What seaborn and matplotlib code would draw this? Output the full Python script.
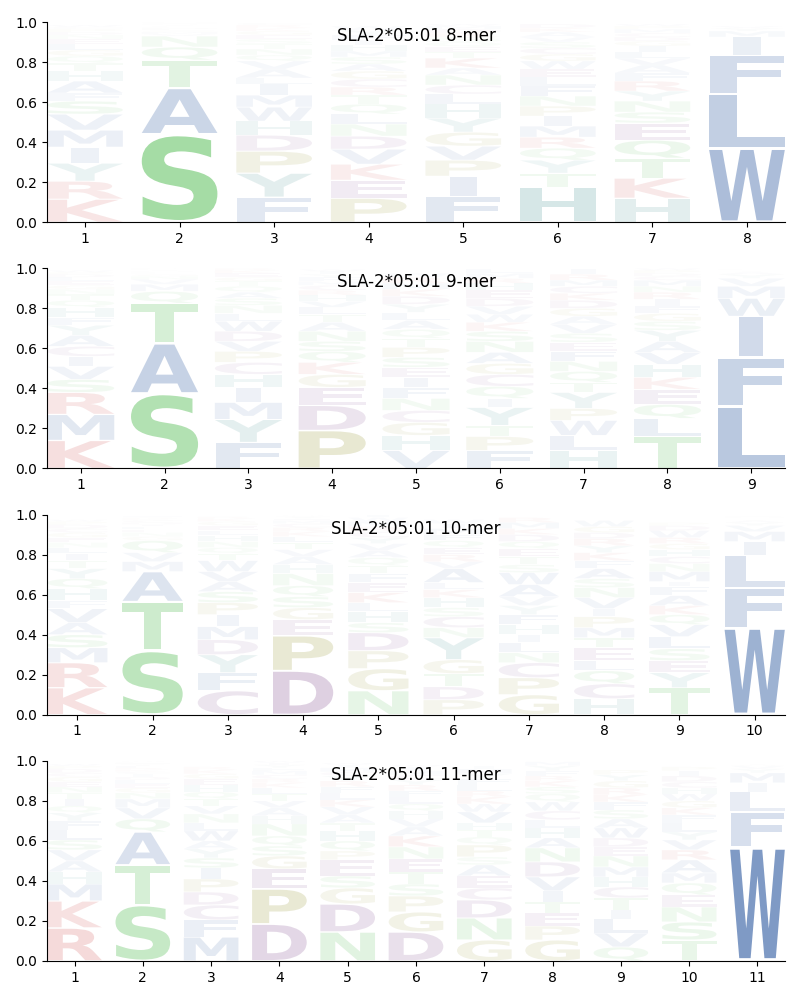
import numpy as np
import matplotlib
matplotlib.use("Agg")
import matplotlib.pyplot as plt
import seaborn as sns
from matplotlib.textpath import TextPath
from matplotlib.patches import PathPatch
from matplotlib.font_manager import FontProperties
from matplotlib.transforms import Affine2D

# Stacks read bottom-to-top for each position (letters, then their probabilities)
mer8_letters = [
    "KRYIMVSFAHTQGLENDPCW",
    "SATQNVMGEDLCIKRFYHPW",
    "FYPDHWMILAVQNTSEGKRC",
    "PEKVDNLQTRCGASMHIFYW",
    "FIPVGYHLCNAKTEQSRDMW",
    "HTYQRMIPNFLEWGCSVAKD",
    "HKTQESNYRFAVLIGDCMPW",
    "WLFIMYVATSGNQEDKRHPC",
]
mer8_values = [
    [.115, .09, .09, .08, .085, .08, .065, .04, .06, .05, .04, .035, .03, .03, .025, .02, .015, .015, .01, .01],
    [.44, .23, .14, .065, .055, .01, .01, .008, .007, .006, .005, .004, .004, .003, .003, .003, .003, .002, .002, .001],
    [.125, .12, .11, .08, .07, .07, .06, .055, .03, .045, .04, .03, .03, .025, .025, .02, .02, .015, .015, .01],
    [.12, .09, .08, .075, .065, .06, .05, .05, .045, .04, .04, .04, .035, .035, .03, .03, .025, .025, .025, .02],
    [.13, .10, .08, .07, .07, .07, .07, .05, .045, .05, .035, .05, .03, .025, .025, .025, .02, .02, .015, .01],
    [.175, .07, .065, .06, .055, .055, .05, .05, .05, .05, .045, .04, .04, .035, .03, .03, .025, .025, .02, .02],
    [.12, .10, .10, .09, .085, .055, .055, .05, .05, .04, .04, .035, .03, .03, .025, .02, .02, .02, .015, .01],
    [.37, .27, .195, .09, .03, .015, .01, .003, .002, .002, .002, .002, .002, .001, .001, .001, .001, .001, .001, .001],
]

mer9_letters = [
    "KMRSVICAYFHQTNGELDPW",
    "SATQMVNGELDICKRFYHPW",
    "FYMIHCPVDWLNSAQTGEKR",
    "PDEGKQSNATLVHRCMFYIW",
    "VHGCNFIESPTQALYDKMRW",
    "FPTYIQCGANSKWVDEHRML",
    "HLWPYTQNFESVAGDKCMRI",
    "TLQEKHVAYSGFIRNMCDPW",
    "LFIWMVYATSGNQEDKRHPC",
]
mer9_values = [
    [.14, .13, .11, .065, .065, .05, .05, .055, .05, .04, .05, .035, .03, .025, .02, .02, .02, .015, .01, .01],
    [.375, .25, .2, .06, .035, .025, .015, .01, .005, .005, .005, .004, .004, .003, .003, .002, .002, .002, .002, .001],
    [.13, .115, .085, .075, .065, .06, .055, .05, .05, .05, .04, .04, .035, .03, .03, .025, .02, .02, .015, .01],
    [.19, .125, .09, .065, .06, .055, .05, .05, .045, .04, .035, .03, .03, .025, .025, .02, .02, .015, .015, .01],
    [.09, .075, .065, .06, .06, .055, .05, .05, .05, .05, .045, .045, .045, .04, .04, .04, .035, .03, .03, .02],
    [.09, .07, .055, .09, .045, .06, .06, .055, .055, .055, .05, .045, .04, .04, .04, .04, .035, .025, .025, .02],
    [.09, .075, .075, .06, .08, .05, .055, .05, .05, .045, .045, .045, .04, .04, .04, .035, .035, .03, .03, .025],
    [.16, .09, .07, .075, .06, .065, .06, .055, .055, .045, .04, .035, .035, .035, .03, .03, .02, .015, .015, .01],
    [.31, .245, .205, .09, .06, .04, .02, .01, .005, .002, .002, .002, .002, .002, .001, .001, .001, .001, .001, .001],
]

mer10_letters = [
    "KRMSAVFHQYTILNEGCDPW",
    "STAMVQGNELIDCKRFYHPW",
    "CFYDMIPSAVWTQNHLEGKR",
    "DPEGSQNHAVTLKRCMFYIW",
    "NGPDSHLKEFTQAVYCRMWI",
    "PDTGYNCSHKLAVREQFMIW",
    "GPCNLIHFYVAWSTEQDKMR",
    "HCQLETMPIVNSAFKYRDGW",
    "TYESLVQKAFIMNCHGRWDP",
    "WFLIMVYATSGNQEDKRHPC",
]
mer10_values = [
    [.135, .125, .075, .065, .06, .07, .04, .06, .05, .05, .04, .035, .03, .025, .025, .025, .02, .02, .015, .01],
    [.32, .245, .15, .05, .045, .06, .02, .02, .015, .015, .01, .01, .01, .008, .007, .006, .005, .005, .004, .003],
    [.12, .09, .09, .075, .065, .06, .06, .055, .05, .05, .055, .035, .03, .03, .03, .025, .025, .02, .015, .01],
    [.22, .175, .08, .06, .055, .055, .06, .045, .04, .035, .035, .03, .025, .02, .02, .015, .01, .01, .005, .005],
    [.12, .11, .09, .09, .05, .055, .045, .05, .05, .045, .04, .04, .035, .035, .03, .03, .025, .025, .02, .015],
    [.075, .065, .065, .07, .11, .05, .055, .045, .05, .04, .035, .07, .035, .035, .035, .035, .03, .03, .025, .02],
    [.1, .085, .075, .05, .05, .04, .05, .05, .045, .045, .06, .06, .04, .04, .04, .035, .035, .03, .03, .025],
    [.08, .075, .065, .05, .065, .05, .05, .055, .04, .055, .05, .045, .05, .04, .04, .035, .035, .03, .03, .03],
    [.135, .075, .06, .06, .06, .06, .05, .045, .05, .045, .025, .05, .04, .035, .035, .03, .03, .035, .025, .015],
    [.435, .2, .16, .07, .05, .03, .015, .01, .005, .005, .003, .003, .003, .002, .002, .002, .002, .001, .001, .001],
]

mer11_letters = [
    "RKMHAVSLFYQITNEGCDPW",
    "STAQVMNGELDICKRFYHPW",
    "MFCDPISYAWLNVTQHEGKR",
    "DPEGSQNHAVTLKRCMFYIW",
    "NDGSEPQHTAVKLFRYCMIW",
    "DGPSTENKAVHQLFRYCMIW",
    "GNDCEASPQTHVWKRLFYMI",
    "GPETIVDNAHLCWQSKRFYM",
    "QVLITCHMNEDWASFKRGYP",
    "TSNEQMARVYLFKGWHCDIP",
    "WFLIMYVATSGNQEDKRHPC",
]
mer11_values = [
    [.165, .135, .085, .06, .055, .055, .05, .05, .045, .04, .035, .035, .03, .03, .025, .025, .02, .02, .015, .01],
    [.28, .2, .165, .065, .055, .045, .03, .025, .02, .02, .015, .015, .01, .01, .01, .01, .008, .007, .005, .005],
    [.12, .085, .075, .065, .065, .055, .05, .045, .04, .05, .04, .045, .04, .035, .035, .035, .03, .025, .02, .015],
    [.185, .175, .1, .065, .05, .05, .06, .04, .04, .035, .035, .03, .025, .02, .02, .02, .015, .015, .01, .01],
    [.145, .14, .08, .06, .08, .045, .05, .05, .04, .04, .04, .035, .035, .03, .03, .025, .02, .02, .015, .01],
    [.145, .1, .08, .06, .06, .065, .06, .055, .045, .04, .04, .035, .035, .03, .03, .025, .025, .02, .02, .01],
    [.105, .11, .09, .06, .06, .055, .04, .06, .04, .035, .035, .055, .04, .035, .03, .03, .03, .025, .025, .015],
    [.105, .07, .065, .055, .055, .07, .075, .07, .05, .05, .04, .045, .045, .04, .035, .03, .025, .025, .025, .02],
    [.07, .07, .07, .045, .06, .055, .05, .05, .055, .045, .045, .05, .045, .045, .04, .035, .035, .035, .03, .025],
    [.105, .09, .075, .06, .06, .05, .065, .05, .05, .04, .045, .04, .035, .035, .035, .03, .03, .03, .025, .02],
    [.57, .175, .1, .045, .05, .02, .015, .005, .003, .003, .002, .002, .002, .002, .001, .001, .001, .001, .001, .001],
]

titles = ["SLA-2*05:01 8-mer", "SLA-2*05:01 9-mer", "SLA-2*05:01 10-mer", "SLA-2*05:01 11-mer"]

# residue colour groups
colors = {}
for aa in "AVLIMFW":
    colors[aa] = "#1f4e99"
for aa in "STNQ":
    colors[aa] = "#33b033"
for aa in "HY":
    colors[aa] = "#1a7a7a"
for aa in "DEC":
    colors[aa] = "#6a2a7a"
for aa in "KR":
    colors[aa] = "#c42020"
for aa in "PG":
    colors[aa] = "#858510"

sns.set_style("ticks", rc={"axes.edgecolor": "black", "xtick.color": "black",
                           "ytick.color": "black", "text.color": "black"})
plt.rcParams["font.family"] = ["DejaVu Sans"]

font = FontProperties(family="DejaVu Sans", weight="bold")
e_width = TextPath((0, 0), "E", size=1, prop=font).get_extents().width
WIDTH = 0.8
VPAD = 0.05


def draw_letter(ax, ch, x, bottom, height, alpha):
    path = TextPath((0, 0), ch, size=1, prop=font)
    bb = path.get_extents()
    hs = min(WIDTH / bb.width, WIDTH / e_width)
    h = height * (1 - VPAD)
    y0 = bottom + height * VPAD / 2
    tr = Affine2D().translate(-bb.x0 - bb.width / 2, -bb.y0).scale(hs, h / bb.height).translate(x, y0)
    ax.add_patch(PathPatch(tr.transform_path(path), facecolor=colors[ch],
                           edgecolor="none", alpha=min(1.0, alpha)))


def draw_logo(ax, letters, values, title):
    n = len(letters)
    for i, (lets, vals) in enumerate(zip(letters, values)):
        bottom = 0.0
        for ch, v in zip(lets, vals):
            draw_letter(ax, ch, i + 1, bottom, v, v)
            bottom += v
    ax.set_xlim(0.6, n + 0.4)
    ax.set_ylim(0, 1)
    ax.set_xticks(range(1, n + 1))
    ax.set_yticks(np.arange(0, 1.01, 0.2))
    ax.text(0.5, 0.93, title, transform=ax.transAxes, ha="center", va="center", fontsize=12)
    sns.despine(ax=ax)


fig, axes = plt.subplots(4, 1, figsize=(8, 10))
fig.subplots_adjust(left=0.059, right=0.981, top=0.978, bottom=0.039, hspace=0.23)

all_letters = [mer8_letters, mer9_letters, mer10_letters, mer11_letters]
all_values = [mer8_values, mer9_values, mer10_values, mer11_values]
for ax, lets, vals, t in zip(axes, all_letters, all_values, titles):
    draw_logo(ax, lets, vals, t)

plt.savefig("out.png", dpi=100)
